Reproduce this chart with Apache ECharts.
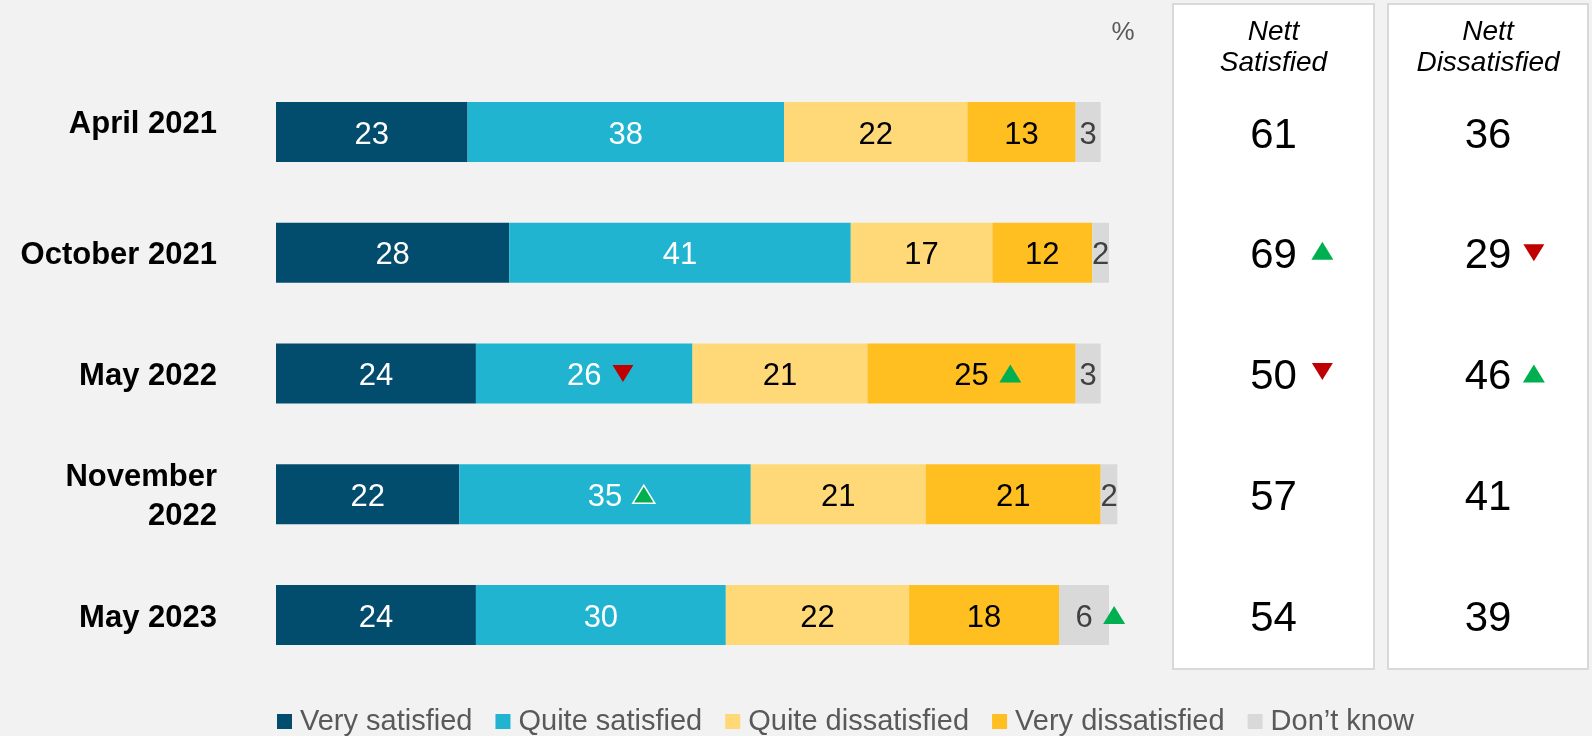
<!DOCTYPE html>
<html>
<head>
<meta charset="utf-8">
<script src="https://cdn.jsdelivr.net/npm/echarts@6/dist/echarts.min.js"></script>
<style>
html,body{margin:0;padding:0;background:#F2F2F2;}
#chart{width:1592px;height:736px;}
</style>
</head>
<body>
<div id="chart"></div>
<script>
// ---------- DATA ----------
const categories = ['April 2021', 'October 2021', 'May 2022', 'November\n2022', 'May 2023'];
const seriesNames = ['Very satisfied', 'Quite satisfied', 'Quite dissatisfied', 'Very dissatisfied', 'Don’t know'];
const verySatisfied     = [23, 28, 24, 22, 24];
const quiteSatisfied    = [38, 41, 26, 35, 30];
const quiteDissatisfied = [22, 17, 21, 21, 22];
const veryDissatisfied  = [13, 12, 25, 21, 18];
const dontKnow          = [3, 2, 3, 2, 6];
const nettSatisfied     = [61, 69, 50, 57, 54];
const nettDissatisfied  = [36, 29, 46, 41, 39];
// significant changes: [series index, row index, direction]
const barChanges = [[1, 2, 'down'], [3, 2, 'up'], [1, 3, 'upOutline'], [4, 4, 'up']];
// [row index, direction]
const nettSatChanges = [[1, 'up'], [2, 'down']];
const nettDisChanges = [[1, 'down'], [2, 'up']];

// ---------- STYLE ----------
const FONT = 'Liberation Sans';
const colors = ['#024D6E', '#20B4D0', '#FFD878', '#FFBF21', '#D9D9D9'];
const labelColors = ['#FFFFFF', '#FFFFFF', '#000000', '#000000', '#404040'];
const GREEN = '#00B050', RED = '#C00000';
const seriesData = [verySatisfied, quiteSatisfied, quiteDissatisfied, veryDissatisfied, dontKnow];

const ctx = document.createElement('canvas').getContext('2d');
function textW(str, size) { ctx.font = size + 'px "' + FONT + '"'; return ctx.measureText(String(str)).width; }

const gridTop = 71.6, gridH = 603.8;
const BAR_FS = 31, NETT_FS = 42;

function triItem(x, row, dir, offsetX, offsetY) {
  const up = dir !== 'down';
  return {
    value: [x, row],
    symbol: 'triangle',
    symbolSize: up ? [22, 18] : [21, 17],
    symbolRotate: up ? 0 : 180,
    symbolOffset: [offsetX, offsetY || 0],
    itemStyle: {
      color: up ? GREEN : RED,
      opacity: 1,
      borderColor: dir === 'upOutline' ? '#FFFFFF' : 'transparent',
      borderWidth: dir === 'upOutline' ? 1.5 : 0
    }
  };
}

const barTriangles = barChanges.map(([s, r, dir]) => {
  let before = 0;
  for (let k = 0; k < s; k++) before += seriesData[k][r];
  const v = seriesData[s][r];
  const off = textW(v, BAR_FS) / 2 + 11 + 10.5;
  return triItem(before + v / 2, r, dir, off, 0);
});
const satTriangles = nettSatChanges.map(([r, dir]) =>
  triItem(0.5, r, dir, textW(nettSatisfied[r], NETT_FS) / 2 + 15 + 10.5, -2));
const disTriangles = nettDisChanges.map(([r, dir]) =>
  triItem(0.5, r, dir, textW(nettDissatisfied[r], NETT_FS) / 2 + 12 + 10.5, 0));

const barSeries = seriesNames.map((name, i) => ({
  name: name,
  type: 'bar',
  stack: 'total',
  barWidth: 60,
  clip: false,
  xAxisIndex: 0, yAxisIndex: 0,
  itemStyle: { color: colors[i] },
  label: {
    show: true, position: 'inside', formatter: '{c}', offset: [0, 3],
    fontSize: BAR_FS, fontFamily: FONT, color: labelColors[i]
  },
  data: seriesData[i]
}));

const hiddenCat = (gi) => ({ gridIndex: gi, type: 'category', inverse: true, data: categories, show: false });
const hiddenVal = (gi, max) => ({ gridIndex: gi, type: 'value', min: 0, max: max, show: false });

const nettSeries = (gi, values) => ({
  type: 'scatter', xAxisIndex: gi, yAxisIndex: gi,
  symbolSize: 1, itemStyle: { color: 'rgba(0,0,0,0)', opacity: 1 },
  label: { show: true, position: 'inside', offset: [0, 4], formatter: (p) => p.value[2], fontSize: NETT_FS, fontFamily: FONT, color: '#000000', opacity: 1 },
  data: values.map((v, r) => [0.5, r, v]),
  z: 4
});

const option = {
  backgroundColor: '#F2F2F2',
  animation: false,
  textStyle: { fontFamily: FONT },
  grid: [
    { left: 276, width: 833, top: gridTop, height: gridH },
    { left: 1173, width: 201, top: gridTop, height: gridH },
    { left: 1388, width: 200, top: gridTop, height: gridH }
  ],
  xAxis: [hiddenVal(0, 100), hiddenVal(1, 1), hiddenVal(2, 1)],
  yAxis: [
    {
      gridIndex: 0, type: 'category', inverse: true,
      data: categories,
      axisLine: { show: false }, axisTick: { show: false },
      axisLabel: {
        margin: 59, fontSize: 31, fontWeight: 'bold', color: '#000', fontFamily: FONT, align: 'right',
        formatter: (v, i) => v.split('\n').map(s => '{' + (i === 0 ? 'up' : 'n') + '|' + s + '}').join('\n'),
        rich: {
          up: { fontSize: 31, fontWeight: 'bold', fontFamily: FONT, color: '#000', lineHeight: 31, padding: [0, 0, 16, 0] },
          n: { fontSize: 31, fontWeight: 'bold', fontFamily: FONT, color: '#000', lineHeight: 39, padding: [6, 0, 0, 0] }
        }
      }
    },
    hiddenCat(1), hiddenCat(2)
  ],
  legend: {
    data: seriesNames,
    left: 277, top: 707, padding: 0,
    icon: 'rect', itemWidth: 15, itemHeight: 15, itemGap: 23,
    textStyle: { fontSize: 29, color: '#595959', fontFamily: FONT, padding: [0, 0, 0, 3] }
  },
  graphic: [
    { type: 'rect', z: 0, shape: { x: 1173, y: 4, width: 201, height: 665 }, style: { fill: '#FFFFFF', stroke: '#D9D9D9', lineWidth: 2 } },
    { type: 'rect', z: 0, shape: { x: 1388, y: 4, width: 200, height: 665 }, style: { fill: '#FFFFFF', stroke: '#D9D9D9', lineWidth: 2 } },
    { type: 'text', z: 1, x: 1273.5, y: 17, style: { text: 'Nett\nSatisfied', fontSize: 28, fontStyle: 'italic', fontFamily: FONT, fill: '#000', align: 'center', verticalAlign: 'top', lineHeight: 31 } },
    { type: 'text', z: 1, x: 1488, y: 17, style: { text: 'Nett\nDissatisfied', fontSize: 28, fontStyle: 'italic', fontFamily: FONT, fill: '#000', align: 'center', verticalAlign: 'top', lineHeight: 31 } },
    { type: 'text', z: 1, x: 1123, y: 33, style: { text: '%', fontSize: 26, fontFamily: FONT, fill: '#595959', align: 'center', verticalAlign: 'middle' } }
  ],
  series: barSeries.concat([
    { type: 'scatter', xAxisIndex: 0, yAxisIndex: 0, z: 5, data: barTriangles },
    nettSeries(1, nettSatisfied),
    nettSeries(2, nettDissatisfied),
    { type: 'scatter', xAxisIndex: 1, yAxisIndex: 1, z: 5, data: satTriangles },
    { type: 'scatter', xAxisIndex: 2, yAxisIndex: 2, z: 5, data: disTriangles }
  ])
};

const chart = echarts.init(document.getElementById('chart'), null, { renderer: 'canvas' });
chart.setOption(option);
</script>
</body>
</html>
